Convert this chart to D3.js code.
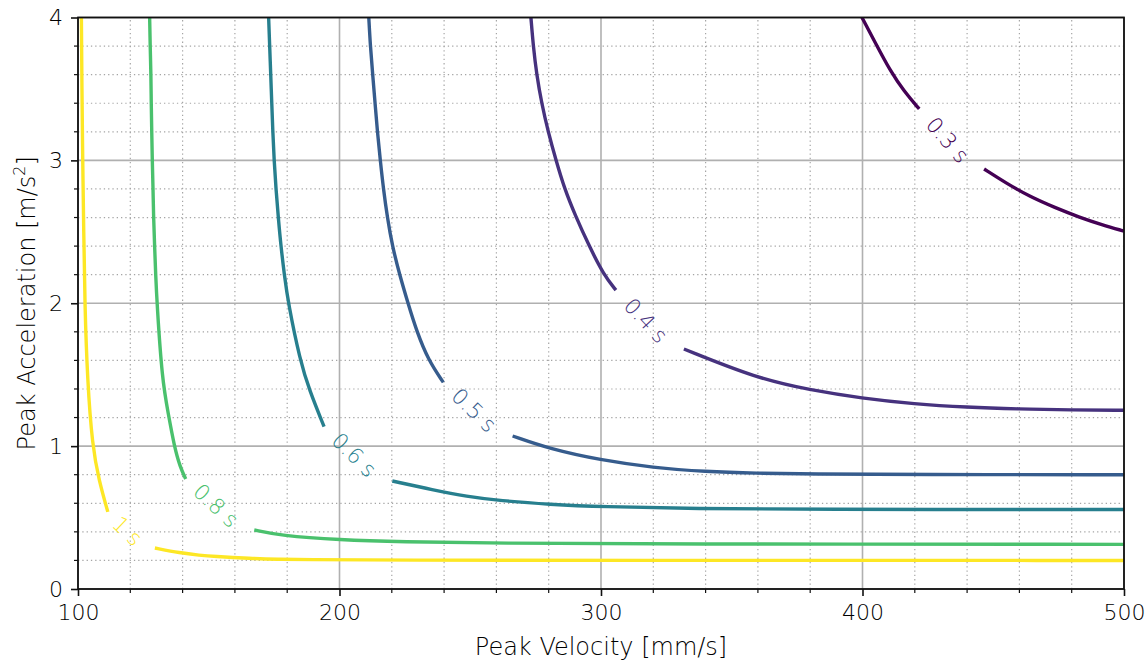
<!DOCTYPE html>
<html>
<head>
<meta charset="utf-8">
<script src="https://cdn.jsdelivr.net/npm/d3@7"></script>
<style>
  body { margin: 0; background: #fff; }
  text { font-family: "DejaVu Sans", sans-serif; font-weight: 200; fill: #000; }
</style>
</head>
<body>
<svg id="chart" width="1145" height="666"></svg>
<script>
// Move-time contours over peak velocity [mm/s] and peak acceleration [m/s²].
const levels = [0.3, 0.4, 0.5, 0.6, 0.8, 1.0];
const levelLabels = ["0.3 s", "0.4 s", "0.5 s", "0.6 s", "0.8 s", "1 s"];

const xTicks = [100, 200, 300, 400, 500];
const yTicks = [0, 1, 2, 3, 4];

// Each contour is split where its inline label sits: [velocity, acceleration]
const c03Upper = [[399.8, 4.0], [405.0, 3.82], [410.5, 3.63], [416.0, 3.48], [421.7, 3.36]];
const c03Lower = [[446.5, 2.94], [455.0, 2.84], [464.1, 2.745], [473.5, 2.67], [483.2, 2.60], [491.5, 2.55], [500, 2.505]];

const c04Upper = [[273.2, 4.0], [274.1, 3.8], [275.4, 3.6], [277.3, 3.4], [279.8, 3.2], [282.8, 3.0],
                  [286.0, 2.804], [290.1, 2.617], [295.3, 2.407], [301.1, 2.197], [305.7, 2.092]];
const c04Lower = [[331.7, 1.68], [359.5, 1.475], [379.9, 1.393], [399.8, 1.335], [419.8, 1.295],
                  [439.8, 1.272], [459.8, 1.26], [479.7, 1.253], [500, 1.251]];

const c05Upper = [[211.2, 4.0], [211.8, 3.8], [212.7, 3.6], [213.6, 3.4], [214.5, 3.2], [215.6, 3.0],
                  [216.8, 2.8], [218.3, 2.6], [220.2, 2.4], [223.0, 2.2], [226.2, 2.0], [229.4, 1.81],
                  [234.0, 1.60], [239.7, 1.446]];
const c05Lower = [[266.2, 1.071], [280.5, 0.98], [299.6, 0.903], [320.0, 0.849], [339.9, 0.821],
                  [359.5, 0.810], [379.9, 0.805], [420, 0.801], [500, 0.8]];

const c06Upper = [[172.9, 4.0], [173.3, 3.8], [173.7, 3.6], [174.1, 3.4], [174.5, 3.2], [175.0, 3.0],
                  [175.7, 2.8], [176.6, 2.6], [177.6, 2.4], [178.9, 2.2], [180.4, 2.0], [184.9, 1.6],
                  [188.5, 1.39], [194.1, 1.136]];
const c06Lower = [[220.2, 0.756], [235.9, 0.693], [248.6, 0.648], [261.4, 0.618], [280.5, 0.592],
                  [299.6, 0.576], [337.9, 0.562], [376.1, 0.557], [500, 0.556]];

const c08Upper = [[127.4, 4.0], [127.6, 3.8], [127.9, 3.6], [128.0, 3.4], [128.2, 3.2], [128.4, 3.0],
                  [128.7, 2.8], [128.9, 2.6], [129.3, 2.4], [129.7, 2.2], [130.2, 2.0], [132.2, 1.46],
                  [134.5, 1.23], [136.8, 1.0], [139.0, 0.856], [141.2, 0.77]];
const c08Lower = [[167.4, 0.413], [177.2, 0.374], [200.2, 0.343], [223.1, 0.330], [261.4, 0.320],
                  [318.7, 0.315], [500, 0.3125]];

const c10Upper = [[101.3, 4.0], [101.5, 3.5], [101.8, 3.0], [102.2, 2.5], [102.6, 2.0], [103.6, 1.46],
                  [105.5, 1.0], [108.0, 0.76], [111.4, 0.54]];
const c10Lower = [[129.4, 0.287], [139.0, 0.252], [146.7, 0.236], [151.7, 0.228], [165.8, 0.214], [177.2, 0.208],
                  [184.9, 0.206], [223.1, 0.202], [299.6, 0.2], [500, 0.2]];

const branches = [
  [c03Upper, c03Lower], [c04Upper, c04Lower], [c05Upper, c05Lower],
  [c06Upper, c06Lower], [c08Upper, c08Lower], [c10Upper, c10Lower]
];

const margin = { top: 17.5, right: 21, bottom: 77, left: 78 };
const width = 1145, height = 666;

const svg = d3.select("#chart");

const x = d3.scaleLinear().domain([100, 500]).range([margin.left, width - margin.right]);
const y = d3.scaleLinear().domain([0, 4]).range([height - margin.bottom, margin.top]);

const color = d3.scaleSequential(d3.interpolateViridis).domain([0.3, 1.0]);

const x0 = x.range()[0], x1 = x.range()[1];
const y0 = y.range()[0], y1 = y.range()[1];

// grid: dotted minor lines, solid major lines
const xMinor = d3.range(100, 500.1, 20).filter(v => v % 100 !== 0);
const yMinor = d3.range(0, 4.01, 0.2).map(v => +v.toFixed(1)).filter(v => Math.abs(v - Math.round(v)) > 1e-6);

const grid = svg.append("g");
grid.selectAll(".xminor").data(xMinor).join("line")
  .attr("x1", d => x(d)).attr("x2", d => x(d)).attr("y1", y0).attr("y2", y1)
  .attr("stroke", "#a5a5a5").attr("stroke-width", 1.2).attr("stroke-dasharray", "1.3,3");
grid.selectAll(".yminor").data(yMinor).join("line")
  .attr("y1", d => y(d)).attr("y2", d => y(d)).attr("x1", x0).attr("x2", x1)
  .attr("stroke", "#a5a5a5").attr("stroke-width", 1.2).attr("stroke-dasharray", "1.3,3");
grid.selectAll(".xmajor").data(xTicks).join("line")
  .attr("x1", d => x(d)).attr("x2", d => x(d)).attr("y1", y0).attr("y2", y1)
  .attr("stroke", "#b0b0b0").attr("stroke-width", 1.6);
grid.selectAll(".ymajor").data(yTicks).join("line")
  .attr("y1", d => y(d)).attr("y2", d => y(d)).attr("x1", x0).attr("x2", x1)
  .attr("stroke", "#b0b0b0").attr("stroke-width", 1.6);

// contour lines
svg.append("clipPath").attr("id", "plotclip")
  .append("rect").attr("x", x0).attr("y", y1).attr("width", x1 - x0).attr("height", y0 - y1);

const line = d3.line().x(d => x(d[0])).y(d => y(d[1])).curve(d3.curveBasis);

const plot = svg.append("g").attr("clip-path", "url(#plotclip)");
branches.forEach((pair, i) => {
  pair.forEach(seg => {
    plot.append("path").datum(seg)
      .attr("d", line)
      .attr("fill", "none")
      .attr("stroke", color(levels[i]))
      .attr("stroke-width", 3.4)
      .attr("stroke-linecap", "butt");
  });
  // inline label centred in the gap, rotated along the gap chord
  const a = pair[0][pair[0].length - 1];
  const b = pair[1][0];
  const ax = x(a[0]), ay = y(a[1]), bx = x(b[0]), by = y(b[1]);
  const ang = Math.atan2(by - ay, bx - ax) * 180 / Math.PI;
  svg.append("text")
    .attr("transform", `translate(${(ax + bx) / 2 - 4},${(ay + by) / 2 + 1}) rotate(${ang + 6})`)
    .attr("text-anchor", "middle")
    .attr("dy", "0.35em")
    .attr("font-size", 21.5)
    .style("fill", color(levels[i]))
    .text(levelLabels[i]);
});

// axes
const xAxis = d3.axisBottom(x).tickValues(xTicks).tickSize(7).tickPadding(8).tickFormat(d3.format("d"));
const yAxis = d3.axisLeft(y).tickValues(yTicks).tickSize(7).tickPadding(8).tickFormat(d3.format("d"));

const gx = svg.append("g").attr("transform", `translate(0,${y0})`).call(xAxis);
const gy = svg.append("g").attr("transform", `translate(${x0},0)`).call(yAxis);
[gx, gy].forEach(g => {
  g.select(".domain").remove();
  g.selectAll(".tick line").attr("stroke", "#111").attr("stroke-width", 1.6);
  g.selectAll(".tick text").attr("font-size", 22).attr("font-family", null).style("fill", "#000");
});

// minor ticks
svg.append("g").selectAll("line").data(xMinor).join("line")
  .attr("x1", d => x(d)).attr("x2", d => x(d)).attr("y1", y0).attr("y2", y0 + 4)
  .attr("stroke", "#111").attr("stroke-width", 1.2);
svg.append("g").selectAll("line").data(yMinor).join("line")
  .attr("y1", d => y(d)).attr("y2", d => y(d)).attr("x1", x0).attr("x2", x0 - 4)
  .attr("stroke", "#111").attr("stroke-width", 1.2);

// frame
svg.append("rect").attr("x", x0).attr("y", y1).attr("width", x1 - x0).attr("height", y0 - y1)
  .attr("fill", "none").attr("stroke", "#111").attr("stroke-width", 1.8);

// axis titles
svg.append("text")
  .attr("x", (x0 + x1) / 2).attr("y", 655)
  .attr("text-anchor", "middle").attr("font-size", 24)
  .text("Peak Velocity [mm/s]");

const yt = svg.append("text")
  .attr("transform", `translate(35,${(y0 + y1) / 2}) rotate(-90)`)
  .attr("text-anchor", "middle").attr("font-size", 24);
yt.append("tspan").text("Peak Acceleration [m/s");
yt.append("tspan").attr("font-size", 16).attr("dy", -10).text("2");
yt.append("tspan").attr("dy", 10).text("]");
</script>
</body>
</html>
